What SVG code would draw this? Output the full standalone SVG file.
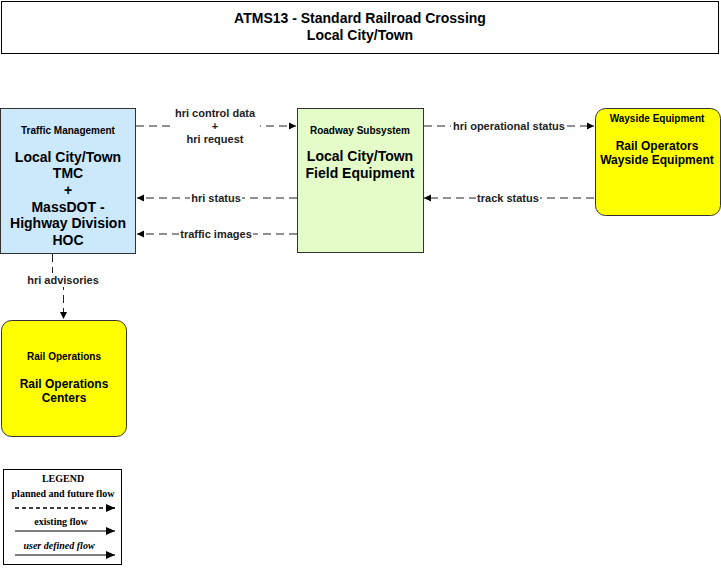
<svg xmlns="http://www.w3.org/2000/svg" width="721" height="568" viewBox="0 0 721 568">
<style>
.box{stroke:#333;stroke-width:1}
.hdr{font-family:"Liberation Sans",Arial,sans-serif;font-weight:bold;font-size:10px;text-anchor:middle;fill:#000}
.main{font-family:"Liberation Sans",Arial,sans-serif;font-weight:bold;font-size:14px;text-anchor:middle;fill:#000}
.sm{font-size:12px}
.lbl{font-family:"Liberation Sans",Arial,sans-serif;font-weight:bold;font-size:11px;text-anchor:middle;fill:#222}
.flow{stroke:#222;stroke-width:1;fill:none;stroke-dasharray:8,5}
.lg{font-family:"Liberation Serif","Times New Roman",serif;font-size:10px;font-weight:bold;text-anchor:middle;fill:#000}
</style>
<defs>
<marker id="ah" markerWidth="8" markerHeight="8" refX="7" refY="4" orient="auto" markerUnits="userSpaceOnUse">
<path d="M0,0.5 L7,4 L0,7.5 Z" fill="#000"/>
</marker>
<marker id="ahl" markerWidth="10" markerHeight="10" refX="9" refY="5" orient="auto" markerUnits="userSpaceOnUse">
<path d="M0,1 L9,5 L0,9 Z" fill="#000"/>
</marker>
</defs>
<rect width="721" height="568" fill="#fff"/>
<g id="title">
<rect x="1.5" y="1.5" width="717" height="52" fill="#fff" stroke="#000"/>
<text x="360" y="23" class="main">ATMS13 - Standard Railroad Crossing</text>
<text x="360" y="40" class="main">Local City/Town</text>
</g>
<g id="connectors">
<line class="flow" x1="136" y1="126" x2="296" y2="126" marker-end="url(#ah)"/>
<rect x="170" y="105" width="90" height="40" fill="#fff"/>
<text x="215" y="117" class="lbl">hri control data</text>
<text x="215" y="130" class="lbl">+</text>
<text x="215" y="143" class="lbl">hri request</text>
<line class="flow" x1="297" y1="198" x2="137" y2="198" marker-end="url(#ah)"/>
<rect x="190" y="191" width="52" height="14" fill="#fff"/>
<text x="216" y="202" class="lbl">hri status</text>
<line class="flow" x1="297" y1="234" x2="137" y2="234" marker-end="url(#ah)"/>
<rect x="179" y="227" width="74" height="14" fill="#fff"/>
<text x="216" y="238" class="lbl">traffic images</text>
<line class="flow" x1="424" y1="126" x2="594" y2="126" marker-end="url(#ah)"/>
<rect x="451" y="119" width="116" height="14" fill="#fff"/>
<text x="509" y="130" class="lbl">hri operational status</text>
<line class="flow" x1="594" y1="198" x2="424" y2="198" marker-end="url(#ah)"/>
<rect x="476" y="191" width="64" height="14" fill="#fff"/>
<text x="508" y="202" class="lbl">track status</text>
<path class="flow" d="M52.5,254 V280 H63.5 V319" marker-end="url(#ah)"/>
<rect x="25" y="273" width="76" height="14" fill="#fff"/>
<text x="63" y="284" class="lbl">hri advisories</text>
</g>
<g id="traffic-management">
<rect class="box" x="0.5" y="108.5" width="135" height="145" fill="#cce8fb"/>
<text x="68" y="134" class="hdr">Traffic Management</text>
<text x="68" y="162" class="main">Local City/Town</text>
<text x="68" y="178" class="main">TMC</text>
<text x="68" y="195" class="main">+</text>
<text x="68" y="212" class="main">MassDOT -</text>
<text x="68" y="228" class="main">Highway Division</text>
<text x="68" y="245" class="main">HOC</text>
</g>
<g id="roadway-subsystem">
<rect class="box" x="297.5" y="108.5" width="126" height="144" fill="#e4fcc8"/>
<text x="360" y="134" class="hdr">Roadway Subsystem</text>
<text x="360" y="161" class="main">Local City/Town</text>
<text x="360" y="178" class="main">Field Equipment</text>
</g>
<g id="wayside-equipment">
<rect class="box" x="595.5" y="108.5" width="125" height="107" rx="10" fill="#ffff00"/>
<text x="657" y="122" class="hdr">Wayside Equipment</text>
<text x="657" y="150" class="main sm">Rail Operators</text>
<text x="657" y="164" class="main sm">Wayside Equipment</text>
</g>
<g id="rail-operations">
<rect class="box" x="1.5" y="320.5" width="125" height="116" rx="10" fill="#ffff00"/>
<text x="64" y="360" class="hdr">Rail Operations</text>
<text x="64" y="388" class="main sm">Rail Operations</text>
<text x="64" y="402" class="main sm">Centers</text>
</g>
<g id="legend">
<rect x="3.5" y="469.5" width="118" height="95" fill="#fff" stroke="#000"/>
<text x="63" y="482" class="lg">LEGEND</text>
<text x="63" y="497" class="lg">planned and future flow</text>
<line x1="15" y1="508" x2="115" y2="508" stroke="#000" stroke-width="1.5" stroke-dasharray="4,3" marker-end="url(#ahl)"/>
<text x="61" y="525" class="lg">existing flow</text>
<line x1="15" y1="531" x2="115" y2="531" stroke="#000" marker-end="url(#ahl)"/>
<text x="59" y="549" class="lg" font-style="italic">user defined flow</text>
<line x1="15" y1="555" x2="115" y2="555" stroke="#000" marker-end="url(#ahl)"/>
</g>
</svg>
